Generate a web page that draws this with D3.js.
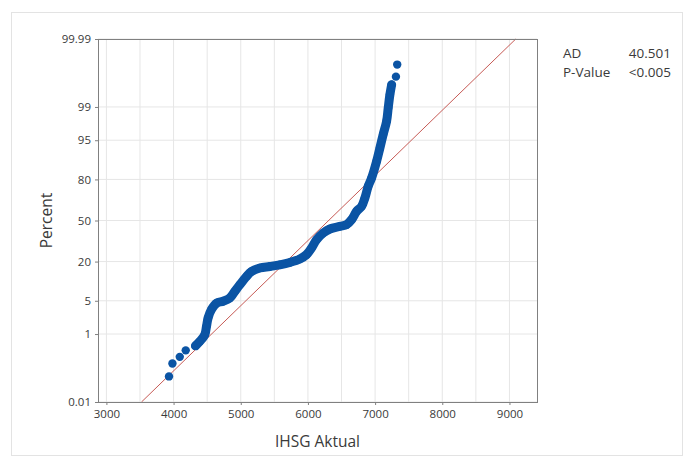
<!DOCTYPE html>
<html>
<head>
<meta charset="utf-8">
<script src="https://cdn.jsdelivr.net/npm/d3@7"></script>
<style>
  body { margin: 0; background: #fff; }
  text { font-family: "Open Sans", "Noto Sans", sans-serif; fill: #3a3a3a; }
  .tick-label { font-size: 11.5px; }
  .axis-label { font-size: 15.5px; }
  .stat { font-size: 13.5px; }
</style>
</head>
<body>
<div id="chart"></div>
<script>
// values: IHSG value and the plotted percent of each dot
const ihsg = [3932, 3983, 4092, 4181, 4326, 4390, 4464, 4490, 4514, 4564, 4639, 4737, 4837, 4911,
  4986, 5086, 5160, 5284, 5433, 5582, 5731, 5880, 5979, 6054, 6128, 6227, 6327, 6476, 6575,
  6650, 6724, 6799, 6848, 6897, 6948, 7022, 7071, 7120, 7171, 7195, 7220, 7246, 7310, 7329];
const percent = [0.07, 0.17, 0.26, 0.39, 0.51, 0.66, 0.96, 1.5, 2.3, 3.4, 4.5, 4.9, 5.6, 7.3,
  9.4, 12.6, 14.8, 16.5, 17.3, 18.2, 19.5, 21.5, 24.2, 28.6, 34.7, 39.9, 43.1, 45.2, 46.6,
  50.7, 57.4, 61.4, 67.8, 75.8, 80.8, 88.7, 93.1, 96.1, 97.9, 98.94, 99.5, 99.73, 99.84, 99.93];

const xTicks = [3000, 4000, 5000, 6000, 7000, 8000, 9000];
const xGrid = [3000, 3500, 4000, 4500, 5000, 5500, 6000, 6500, 7000, 7500, 8000, 8500, 9000];
const yTicks = [0.01, 1, 5, 20, 50, 80, 95, 99, 99.99];

// fitted normal line (mean, sd)
const fitMean = 6308;
const fitSd = 749;

const stats = [["AD", "40.501"], ["P-Value", "<0.005"]];

const width = 683, height = 459;
const margin = {top: 39, right: 146, bottom: 57, left: 98};
const innerWidth = width - margin.left - margin.right;
const innerHeight = height - margin.top - margin.bottom;

// inverse normal cdf (Acklam)
const probit = p => {
  const a = [-39.69683028665376, 220.9460984245205, -275.9285104469687, 138.3577518672690, -30.66479806614716, 2.506628277459239];
  const b = [-54.47609879822406, 161.5858368580409, -155.6989798598866, 66.80131188771972, -13.28068155288572];
  const c = [-0.007784894002430293, -0.3223964580411365, -2.400758277161838, -2.549732539343734, 4.374664141464968, 2.938163982698783];
  const d = [0.007784695709041462, 0.3224671290700398, 2.445134137142996, 3.754408661907416];
  const pl = 0.02425;
  let q, r;
  if (p < pl) {
    q = Math.sqrt(-2 * Math.log(p));
    return (((((c[0]*q+c[1])*q+c[2])*q+c[3])*q+c[4])*q+c[5]) / ((((d[0]*q+d[1])*q+d[2])*q+d[3])*q+1);
  } else if (p <= 1 - pl) {
    q = p - 0.5; r = q * q;
    return (((((a[0]*r+a[1])*r+a[2])*r+a[3])*r+a[4])*r+a[5])*q / (((((b[0]*r+b[1])*r+b[2])*r+b[3])*r+b[4])*r+1);
  }
  q = Math.sqrt(-2 * Math.log(1 - p));
  return -(((((c[0]*q+c[1])*q+c[2])*q+c[3])*q+c[4])*q+c[5]) / ((((d[0]*q+d[1])*q+d[2])*q+d[3])*q+1);
};
const zOf = pct => probit(pct / 100);

const svg = d3.select("#chart")
  .append("svg")
  .attr("width", width)
  .attr("height", height);

// outer light frame
svg.append("rect")
  .attr("x", 11.5).attr("y", 12.5)
  .attr("width", 671).attr("height", 443)
  .attr("fill", "none")
  .attr("stroke", "#e3e3e3");

const xScale = d3.scaleLinear()
  .domain([2875, 9410])
  .range([0, innerWidth]);

const yScale = d3.scaleLinear()
  .domain([zOf(0.01), zOf(99.99)])
  .range([innerHeight, 0]);

const inner = svg.append("g")
  .attr("transform", `translate(${margin.left}, ${margin.top})`);

//grid lines
inner.append("g")
  .selectAll("line")
  .data(xGrid)
  .join("line")
    .attr("x1", d => xScale(d)).attr("x2", d => xScale(d))
    .attr("y1", 0).attr("y2", innerHeight)
    .attr("stroke", "#e6e6e6");

inner.append("g")
  .selectAll("line")
  .data(yTicks)
  .join("line")
    .attr("x1", 0).attr("x2", innerWidth)
    .attr("y1", d => yScale(zOf(d))).attr("y2", d => yScale(zOf(d)))
    .attr("stroke", "#e6e6e6");

//axes
const bottomAxis = d3.axisBottom(xScale)
  .tickValues(xTicks)
  .tickSize(3)
  .tickPadding(5)
  .tickFormat(d3.format("d"));

const leftAxis = d3.axisLeft(yScale)
  .tickValues(yTicks.map(zOf))
  .tickSize(3)
  .tickPadding(4)
  .tickFormat((d, i) => String(yTicks[i]));

const gx = inner.append("g")
  .attr("transform", `translate(0, ${innerHeight})`)
  .call(bottomAxis);
const gy = inner.append("g").call(leftAxis);

[gx, gy].forEach(g => {
  g.select(".domain").remove();
  g.selectAll(".tick line").attr("stroke", "#808080");
  g.selectAll(".tick text").attr("class", "tick-label").attr("fill", "#3a3a3a");
});

//fitted line
inner.append("line")
  .attr("x1", xScale(fitMean + fitSd * yScale.domain()[0]))
  .attr("y1", yScale(yScale.domain()[0]))
  .attr("x2", xScale(fitMean + fitSd * yScale.domain()[1]))
  .attr("y2", yScale(yScale.domain()[1]))
  .attr("stroke", "#c65a55")
  .attr("stroke-width", 1);

//points
const points = ihsg.map((v, i) => ({v: v, z: zOf(percent[i])}));

// the dense run of overlapping dots
const band = d3.line()
  .x(d => xScale(d.v))
  .y(d => yScale(d.z))
  .curve(d3.curveCatmullRom);

inner.append("path")
  .datum(points.slice(4, 42))
  .attr("fill", "none")
  .attr("stroke", "#0b54a4")
  .attr("stroke-width", 9)
  .attr("stroke-linecap", "round")
  .attr("stroke-linejoin", "round")
  .attr("d", band);

inner.append("g")
  .selectAll("circle")
  .data(points)
  .join("circle")
    .attr("cx", d => xScale(d.v))
    .attr("cy", d => yScale(d.z))
    .attr("r", 4.2)
    .attr("fill", "#0b54a4");

//plot frame
inner.append("rect")
  .attr("x", 0.5).attr("y", 0.5)
  .attr("width", innerWidth).attr("height", innerHeight)
  .attr("fill", "none")
  .attr("stroke", "#808080");

//axis labels
svg.append("text")
  .text("IHSG Aktual")
  .attr("class", "axis-label")
  .attr("text-anchor", "middle")
  .attr("x", margin.left + innerWidth / 2)
  .attr("y", 447);

svg.append("text")
  .text("Percent")
  .attr("class", "axis-label")
  .attr("text-anchor", "middle")
  .attr("transform", `translate(52, ${margin.top + innerHeight / 2}) rotate(-90)`);

//stats box
const statG = svg.append("g");
stats.forEach((s, i) => {
  statG.append("text").text(s[0])
    .attr("class", "stat")
    .attr("x", 563).attr("y", 58 + i * 19);
  statG.append("text").text(s[1])
    .attr("class", "stat")
    .attr("text-anchor", "end")
    .attr("x", 671).attr("y", 58 + i * 19);
});
</script>
</body>
</html>
